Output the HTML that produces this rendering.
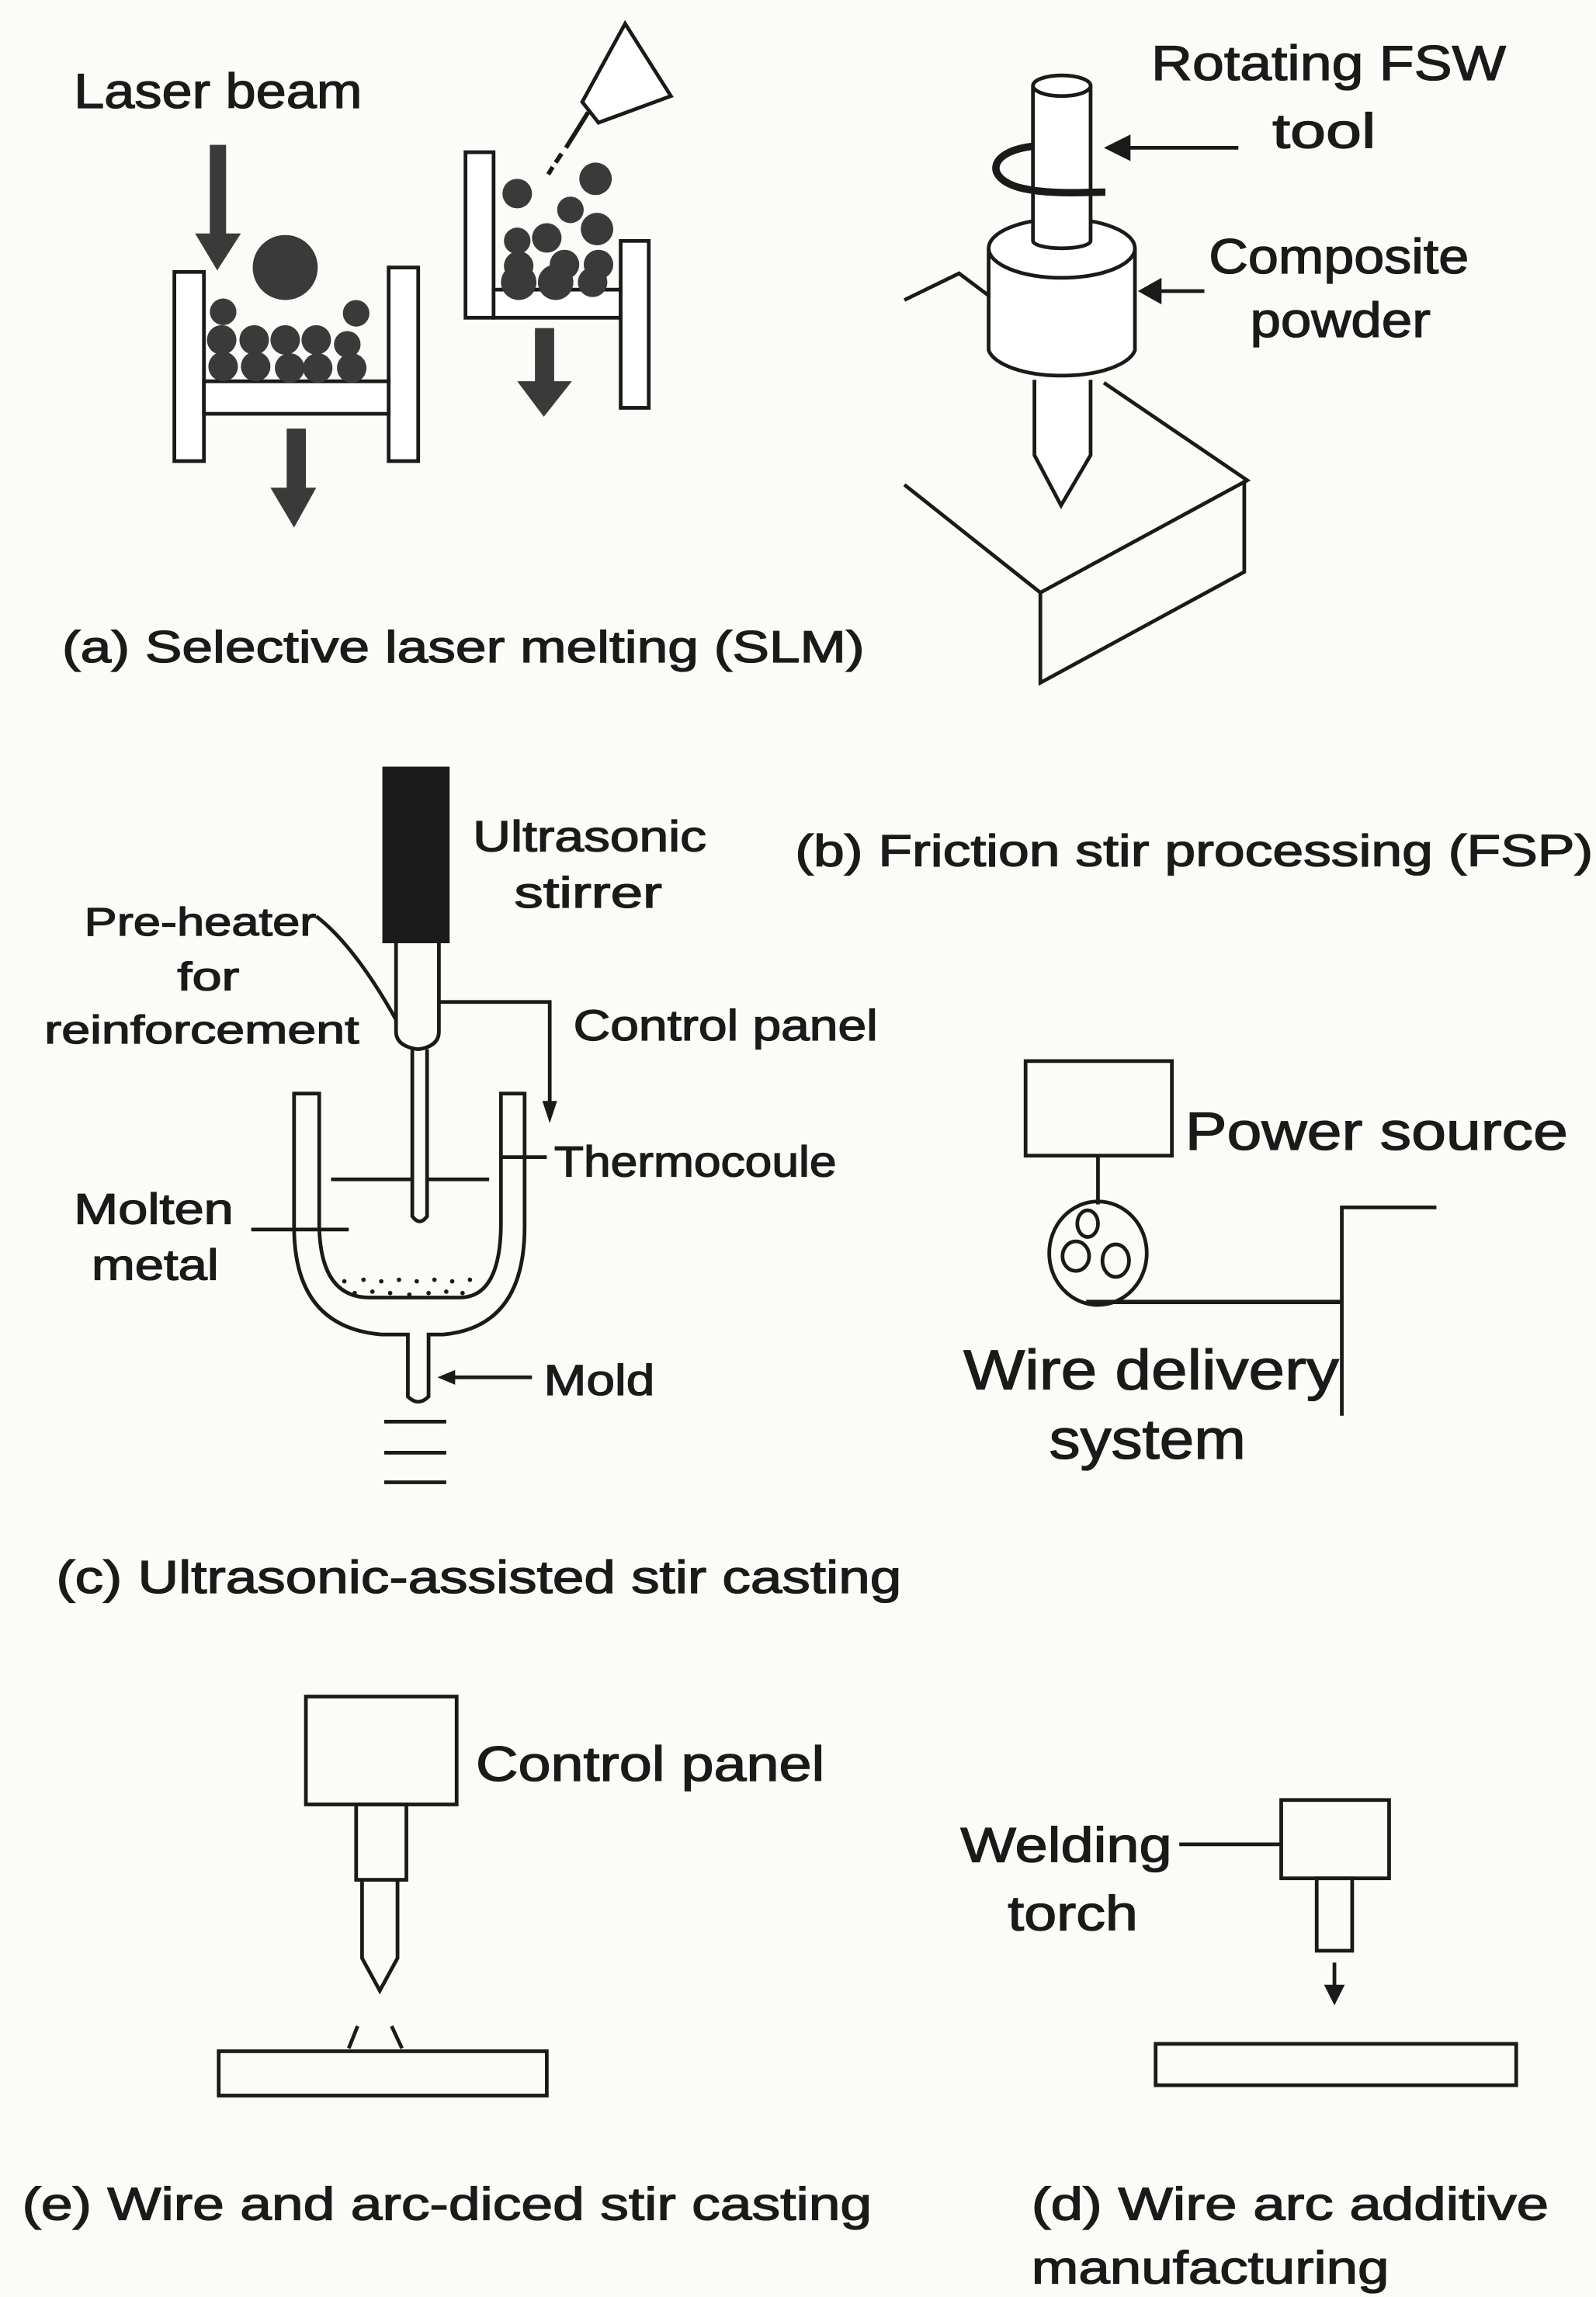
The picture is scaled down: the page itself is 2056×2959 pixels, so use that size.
<!DOCTYPE html>
<html><head><meta charset="utf-8"><style>
html,body{margin:0;padding:0;background:#fbfbf8;}
svg{display:block;}
text{font-family:"Liberation Sans",sans-serif;fill:#1a1a1a;stroke:#1a1a1a;stroke-width:0.7;}
</style></head><body>
<svg width="2056" height="2959" viewBox="0 0 1080 1554.3" preserveAspectRatio="none" xmlns="http://www.w3.org/2000/svg">
<rect width="1080" height="1554.3" fill="#fbfbf8"/>
<g fill="none" stroke="#1a1a1a" stroke-width="2.5">
<rect x="118" y="184" width="20" height="128" fill="#fff"/>
<rect x="263" y="181" width="20" height="131" fill="#fff"/>
<rect x="138" y="258" width="125" height="22" fill="#fff"/>
<rect x="315" y="103" width="19" height="112" fill="#fff"/>
<rect x="334" y="196" width="86" height="19" fill="#fff"/>
<rect x="420" y="163" width="19" height="113" fill="#fff"/>
<path d="M394,69 L423,16 L454,65 L405,83 Z" fill="#fff"/>
<path d="M398,76 L383,100 M380,104 L376,110 M374,113 L371,118" stroke-width="3"/>
</g>
<g fill="#3a3a3a">
<rect x="142" y="98" width="11" height="62"/><path d="M132,158 L163,158 L147,183 Z"/>
<rect x="194" y="290" width="13" height="42"/><path d="M183,330 L214,330 L199,357 Z"/>
<rect x="362" y="222" width="13" height="38"/><path d="M350,258 L387,258 L368,282 Z"/>
<circle cx="193" cy="181" r="22"/>
<circle cx="151" cy="211" r="9"/><circle cx="241" cy="212" r="9"/>
<circle cx="150" cy="230" r="10"/><circle cx="172" cy="230" r="10"/><circle cx="193" cy="230" r="10"/><circle cx="214" cy="230" r="10"/><circle cx="235" cy="233" r="9"/>
<circle cx="151" cy="248" r="10"/><circle cx="173" cy="248" r="10"/><circle cx="196" cy="249" r="10"/><circle cx="215" cy="249" r="10"/><circle cx="238" cy="249" r="10"/>
<circle cx="350" cy="131" r="10"/><circle cx="403" cy="121" r="11"/><circle cx="386" cy="142" r="9"/><circle cx="404" cy="155" r="11"/><circle cx="370" cy="161" r="10"/>
<circle cx="350" cy="163" r="9"/><circle cx="351" cy="180" r="10"/><circle cx="382" cy="179" r="10"/><circle cx="405" cy="179" r="10"/>
<circle cx="351" cy="191" r="12"/><circle cx="376" cy="191" r="12"/><circle cx="401" cy="191" r="10"/>
</g>
<g fill="none" stroke="#1a1a1a" stroke-width="2.5">
<path d="M612,203 L649,185 L669,200"/>
<path d="M612,328 L704,401 L844,325 L747,259"/>
<path d="M704,401 L704,462 L842,387 L842,325"/>
<path d="M700,257 L700,308 L718,342 L738,308 L738,257" fill="#fff"/>
<path d="M669,168 L669,237 A50,20 0 0 0 768,237 L768,168" fill="#fff"/>
<ellipse cx="718.5" cy="168" rx="49.5" ry="20" fill="#fff"/>
<path d="M699,58 L699,163 A19.5,5 0 0 0 738,163 L738,58" fill="#fff"/>
<ellipse cx="718.5" cy="58" rx="19.5" ry="7" fill="#fff"/>
<path d="M699,99 C670,102 665,120 690,127 C710,132 735,130 748,130" stroke-width="5"/>
<path d="M838,100 L760,100 M815,197 L782,197"/>
</g>
<g fill="#1a1a1a"><path d="M747,100 L765,91 L765,109 Z"/><path d="M770,197 L786,188 L786,206 Z"/></g>
<g fill="none" stroke="#1a1a1a" stroke-width="2.5">
<rect x="260" y="520" width="43" height="117" fill="#1a1a1a"/>
<path d="M268,637 L268,698 Q268,708 283,710 Q297,708 297,698 L297,637"/>
<path d="M279,710 L279,823 Q284,830 289,823 L289,710"/>
<path d="M214,620 Q240,640 268,690"/>
<path d="M297,678 L372,678 L372,748"/>
<path d="M199,740 L216,740 L216,827 Q216,878 250,878 L311,878 Q339,878 339,827 L339,740 L355,740 L355,830 Q355,898 300,903 L290,903 L290,945 Q283,952 276,945 L276,903 L258,903 Q199,898 199,830 Z"/>
<path d="M224,798 L279,798 M289,798 L331,798"/>
<path d="M339,783 L370,783"/>
<path d="M170,832 L236,832"/>
<path d="M305,932 L360,932"/>
<path d="M260,962 L302,962 M260,983 L302,983 M260,1003 L302,1003"/>
</g>
<path d="M367,745 L377,745 L372,760 Z" fill="#1a1a1a"/>
<path d="M296,932 L308,927 L308,937 Z" fill="#1a1a1a"/>
<g fill="#1a1a1a">
<circle cx="233" cy="867" r="1.5"/><circle cx="246" cy="866" r="1.5"/><circle cx="258" cy="867" r="1.5"/><circle cx="270" cy="866" r="1.5"/><circle cx="282" cy="867" r="1.5"/><circle cx="294" cy="866" r="1.5"/><circle cx="306" cy="867" r="1.5"/><circle cx="318" cy="866" r="1.5"/>
<circle cx="240" cy="875" r="1.5"/><circle cx="252" cy="874" r="1.5"/><circle cx="264" cy="875" r="1.5"/><circle cx="277" cy="876" r="1.5"/><circle cx="290" cy="875" r="1.5"/><circle cx="302" cy="874" r="1.5"/><circle cx="313" cy="875" r="1.5"/>
</g>
<g fill="none" stroke="#1a1a1a" stroke-width="2.5">
<rect x="694" y="718" width="99" height="64"/>
<path d="M743,782 L743,815"/>
<ellipse cx="743" cy="848" rx="33" ry="35"/>
<ellipse cx="736" cy="828" rx="7" ry="9"/>
<ellipse cx="728" cy="850" rx="9" ry="10"/>
<ellipse cx="755" cy="853" rx="9" ry="11"/>
<path d="M735,881 L908,881" stroke-width="3"/>
<path d="M908,958 L908,817 L972,817"/>
</g>
<g fill="none" stroke="#1a1a1a" stroke-width="2.5">
<rect x="207" y="1148" width="102" height="73"/>
<rect x="241" y="1221" width="34" height="51"/>
<path d="M245,1272 L245,1325 L257,1347 L269,1325 L269,1272"/>
<path d="M236,1386 L242,1371 M265,1371 L272,1386"/>
<rect x="148" y="1388" width="222" height="30"/>
</g>
<g fill="none" stroke="#1a1a1a" stroke-width="2.5">
<rect x="867" y="1218" width="73" height="53"/>
<rect x="891" y="1271" width="24" height="49"/>
<path d="M798,1248 L867,1248"/>
<path d="M903,1328 L903,1345"/>
<rect x="782" y="1383" width="244" height="28"/>
</g>
<path d="M896,1343 L910,1343 L903,1357 Z" fill="#1a1a1a"/>
<g font-size="33">
<text x="50" y="73" textLength="195" lengthAdjust="spacingAndGlyphs">Laser beam</text>
<text x="42" y="448" font-size="30" textLength="543" lengthAdjust="spacingAndGlyphs">(a) Selective laser melting (SLM)</text>
<text x="779" y="54" textLength="240" lengthAdjust="spacingAndGlyphs">Rotating FSW</text>
<text x="861" y="100" textLength="70" lengthAdjust="spacingAndGlyphs">tool</text>
<text x="818" y="185" textLength="176" lengthAdjust="spacingAndGlyphs">Composite</text>
<text x="846" y="228" textLength="122" lengthAdjust="spacingAndGlyphs">powder</text>
<text x="538" y="586" font-size="30" textLength="540" lengthAdjust="spacingAndGlyphs">(b) Friction stir processing (FSP)</text>
<text x="320" y="576" font-size="29" textLength="158" lengthAdjust="spacingAndGlyphs">Ultrasonic</text>
<text x="348" y="614" font-size="29" textLength="100" lengthAdjust="spacingAndGlyphs">stirrer</text>
<text x="57" y="633" font-size="27" textLength="157" lengthAdjust="spacingAndGlyphs">Pre-heater</text>
<text x="120" y="670" font-size="27" textLength="42" lengthAdjust="spacingAndGlyphs">for</text>
<text x="30" y="706" font-size="27" textLength="213" lengthAdjust="spacingAndGlyphs">reinforcement</text>
<text x="388" y="704" font-size="29" textLength="206" lengthAdjust="spacingAndGlyphs">Control panel</text>
<text x="375" y="796" font-size="29" textLength="191" lengthAdjust="spacingAndGlyphs">Thermocoule</text>
<text x="50" y="828" font-size="29" textLength="108" lengthAdjust="spacingAndGlyphs">Molten</text>
<text x="62" y="866" font-size="29" textLength="86" lengthAdjust="spacingAndGlyphs">metal</text>
<text x="368" y="944" font-size="29" textLength="75" lengthAdjust="spacingAndGlyphs">Mold</text>
<text x="38" y="1078" font-size="31" textLength="572" lengthAdjust="spacingAndGlyphs">(c) Ultrasonic-assisted stir casting</text>
<text x="802" y="778" font-size="36" textLength="259" lengthAdjust="spacingAndGlyphs">Power source</text>
<text x="652" y="940" font-size="38" textLength="254" lengthAdjust="spacingAndGlyphs">Wire delivery</text>
<text x="710" y="987" font-size="38" textLength="133" lengthAdjust="spacingAndGlyphs">system</text>
<text x="322" y="1205" font-size="33" textLength="236" lengthAdjust="spacingAndGlyphs">Control panel</text>
<text x="650" y="1260" font-size="33" textLength="143" lengthAdjust="spacingAndGlyphs">Welding</text>
<text x="682" y="1306" font-size="33" textLength="88" lengthAdjust="spacingAndGlyphs">torch</text>
<text x="15" y="1502" font-size="31" textLength="575" lengthAdjust="spacingAndGlyphs">(e) Wire and arc-diced stir casting</text>
<text x="698" y="1502" font-size="31" textLength="350" lengthAdjust="spacingAndGlyphs">(d) Wire arc additive</text>
<text x="698" y="1545" font-size="31" textLength="242" lengthAdjust="spacingAndGlyphs">manufacturing</text>
</g>
</svg>
</body></html>
